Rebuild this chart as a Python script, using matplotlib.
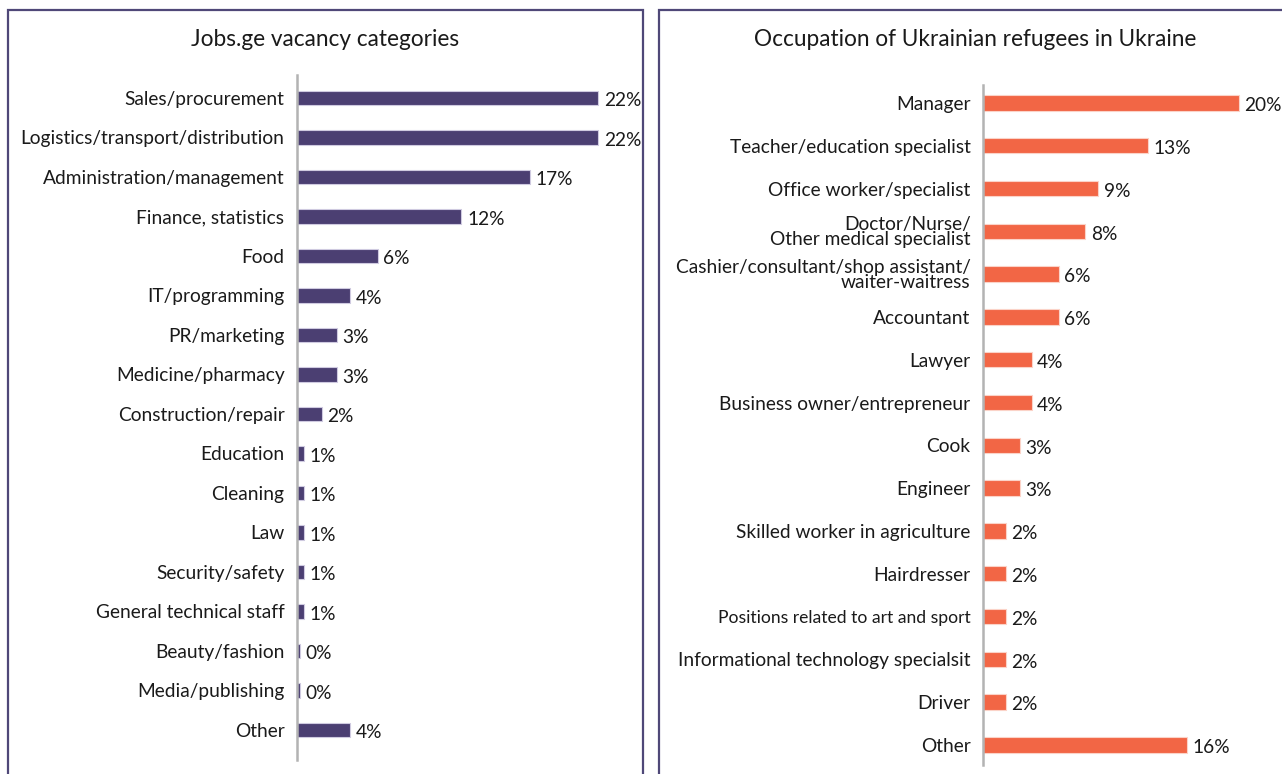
import matplotlib
matplotlib.use("Agg")
import matplotlib.pyplot as plt
from matplotlib.patches import Rectangle

plt.rcParams['font.family'] = ['Lato', 'DejaVu Sans']

# left panel data
jobs_title = "Jobs.ge vacancy categories"
jobs_cats = ["Sales/procurement", "Logistics/transport/distribution",
             "Administration/management", "Finance, statistics", "Food",
             "IT/programming", "PR/marketing", "Medicine/pharmacy",
             "Construction/repair", "Education", "Cleaning", "Law",
             "Security/safety", "General technical staff", "Beauty/fashion",
             "Media/publishing", "Other"]
jobs_vals = [22.0, 22.0, 17.0, 12.0, 5.9, 3.9, 2.9, 2.9, 1.8, 0.5, 0.5, 0.5,
             0.5, 0.5, 0.2, 0.2, 3.9]
jobs_labels = ["22%", "22%", "17%", "12%", "6%", "4%", "3%", "3%", "2%",
               "1%", "1%", "1%", "1%", "1%", "0%", "0%", "4%"]

# right panel data
ua_title = "Occupation of Ukrainian refugees in Ukraine"
ua_cats = ["Manager", "Teacher/education specialist", "Office worker/specialist",
           "Doctor/Nurse/\nOther medical specialist",
           "Cashier/consultant/shop assistant/\nwaiter-waitress",
           "Accountant", "Lawyer", "Business owner/entrepreneur", "Cook",
           "Engineer", "Skilled worker in agriculture", "Hairdresser",
           "Positions related to art and sport",
           "Informational technology specialsit", "Driver", "Other"]
ua_vals = [20.0, 12.9, 9.0, 8.0, 5.9, 5.9, 3.8, 3.8, 2.9, 2.9, 1.8, 1.8,
           1.8, 1.8, 1.8, 15.9]
ua_labels = ["20%", "13%", "9%", "8%", "6%", "6%", "4%", "4%", "3%", "3%",
             "2%", "2%", "2%", "2%", "2%", "16%"]

W, H = 1282, 774
fig = plt.figure(figsize=(W / 100, H / 100), dpi=100)

# panel frames
border = '#4f4878'
fig.patches.append(Rectangle((8 / W, -0.05), 635 / W, 1.05 - 10 / H,
                             transform=fig.transFigure, fill=False,
                             edgecolor=border, linewidth=1.6))
fig.patches.append(Rectangle((659 / W, -0.05), 700 / W, 1.05 - 10 / H,
                             transform=fig.transFigure, fill=False,
                             edgecolor=border, linewidth=1.6))


def panel(rect, cats, vals, labels, color, edge, ylim, xmax, title, title_x):
    ax = fig.add_axes(rect)
    y = range(len(cats))
    ax.barh(y, vals, height=0.36, color=color, edgecolor=edge, linewidth=0.8)
    for yi, v, lab in zip(y, vals, labels):
        ax.annotate(lab, (v, yi), xytext=(4, -2), textcoords='offset points',
                    va='center', ha='left', fontsize=13.8, color='#1a1a1a')
    ax.set_yticks(list(y))
    ax.set_yticklabels(cats, fontsize=13.8, color='#1a1a1a', linespacing=0.88)
    ax.tick_params(axis='y', length=0, pad=9)
    ax.set_xticks([])
    ax.set_xlim(0, xmax)
    ax.set_ylim(*ylim)
    for s in ['top', 'right', 'bottom']:
        ax.spines[s].set_visible(False)
    ax.spines['left'].set_color('#b3b3b3')
    ax.spines['left'].set_linewidth(1.8)
    fig.text(title_x / W, 1 - 40 / H, title, ha='center', va='center',
             fontsize=16.3, color='#1a1a1a')
    return ax


# left: axis from x=297, 13.7 px per unit; rows 98..730
panel([297 / W, 1 - 760 / H, 24 * 13.7 / W, 685 / H], jobs_cats, jobs_vals,
      jobs_labels, '#4b3f72', '#cfcae0', (16.76, -0.58), 24,
      jobs_title, 325)

# right: axis from x=983, 12.8 px per unit; rows 103..745
ax2 = panel([983 / W, 1 - 765 / H, 23 * 12.8 / W, 680 / H], ua_cats, ua_vals,
            ua_labels, '#f26645', '#fbd3c8', (15.47, -0.42), 23,
            ua_title, 975)
# this label is set in a narrower face in the original
ax2.get_yticklabels()[12].set_fontsize(12.6)

fig.savefig("out.png", dpi=100)
